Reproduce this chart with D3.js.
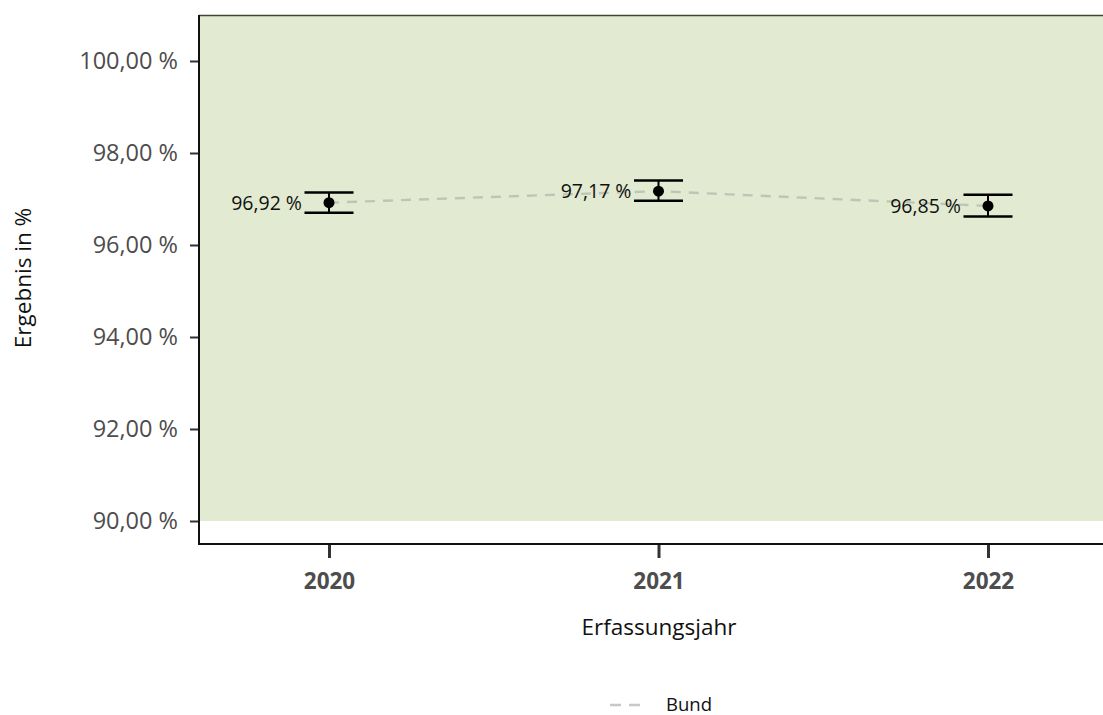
<!DOCTYPE html>
<html><head><meta charset="utf-8">
<script src="https://cdn.jsdelivr.net/npm/d3@7"></script>
<style>body{margin:0;background:#fff}svg{display:block}</style>
</head><body>
<svg id="c" width="1103" height="715"></svg>
<script>
const years = ["2020","2021","2022"];
const values = [96.92, 97.17, 96.85];
const upper = [97.14, 97.40, 97.09];
const lower = [96.70, 96.96, 96.62];
const labels = ["96,92 %","97,17 %","96,85 %"];
const yTicks = [90, 92, 94, 96, 98, 100];
const bandRange = [90, 101];
const legendLabel = "Bund";

const svg = d3.select("#c");
const font = "'Open Sans', 'Noto Sans', sans-serif";
const L = 199, R = 1103, T = 15, B = 544;
const y = d3.scaleLinear().domain([89.5, 101]).range([B, T]);
const x = d3.scalePoint().domain(years).range([329, 988]).padding(0);

svg.append("rect").attr("x", L).attr("y", y(bandRange[1])).attr("width", R - L)
  .attr("height", y(bandRange[0]) - y(bandRange[1])).attr("fill", "#e2ebd2");
svg.append("line").attr("x1", L).attr("x2", R).attr("y1", y(bandRange[1]) + 0.5).attr("y2", y(bandRange[1]) + 0.5)
  .attr("stroke", "#3b4630").attr("stroke-width", 1.5);

// y axis
const ya = svg.append("g").attr("transform", `translate(${L},0)`)
  .call(d3.axisLeft(y).tickValues(yTicks).tickSize(9).tickPadding(12)
    .tickFormat(d => d3.format(".2f")(d).replace(".", ",") + " %"));
ya.select(".domain").remove();
ya.selectAll(".tick line").attr("stroke", "#333").attr("stroke-width", 2);
ya.selectAll(".tick text").attr("font-family", font).attr("font-size", 23.5).attr("fill", "#4d4d4d");

// x axis
const xa = svg.append("g").attr("transform", `translate(0,${B + 1})`)
  .call(d3.axisBottom(x).tickSize(13).tickPadding(15));
xa.select(".domain").remove();
xa.selectAll(".tick line").attr("stroke", "#333").attr("stroke-width", 3);
xa.selectAll(".tick text").attr("font-family", font).attr("font-size", 22.5).attr("font-weight", "bold").attr("fill", "#4d4d4d");

// axis lines
svg.append("line").attr("x1", L).attr("x2", L).attr("y1", T).attr("y2", B + 1).attr("stroke", "#111").attr("stroke-width", 2);
svg.append("line").attr("x1", L).attr("x2", R).attr("y1", B).attr("y2", B).attr("stroke", "#111").attr("stroke-width", 2);

// dashed line
const line = d3.line().x((d, i) => x(years[i])).y(d => y(d));
svg.append("path").datum(values).attr("d", line).attr("fill", "none")
  .attr("stroke", "#bfc5b6").attr("stroke-width", 2.4).attr("stroke-dasharray", "10,8");

// error bars
const g = svg.append("g");
years.forEach((yr, i) => {
  const cx = x(yr);
  g.append("line").attr("x1", cx).attr("x2", cx).attr("y1", y(upper[i])).attr("y2", y(lower[i])).attr("stroke", "#000").attr("stroke-width", 2);
  [upper[i], lower[i]].forEach(v => g.append("line").attr("x1", cx - 24.5).attr("x2", cx + 24.5)
    .attr("y1", y(v)).attr("y2", y(v)).attr("stroke", "#000").attr("stroke-width", 2.5));
  g.append("circle").attr("cx", cx).attr("cy", y(values[i])).attr("r", 5.5).attr("fill", "#000");
  g.append("text").attr("x", cx - 27).attr("y", y(values[i])).attr("dy", "0.35em")
    .attr("text-anchor", "end").attr("font-family", font).attr("font-size", 19.5).attr("fill", "#111").text(labels[i]);
});

// axis titles
svg.append("text").attr("x", 659).attr("y", 635).attr("text-anchor", "middle")
  .attr("font-family", font).attr("font-size", 22.5).attr("fill", "#111").text("Erfassungsjahr");
svg.append("text").attr("transform", "translate(31,278) rotate(-90)").attr("text-anchor", "middle")
  .attr("font-family", font).attr("font-size", 22.5).attr("fill", "#111").text("Ergebnis in %");

// legend
svg.append("line").attr("x1", 610).attr("x2", 646).attr("y1", 705).attr("y2", 705)
  .attr("stroke", "#c8c8c8").attr("stroke-width", 2.4).attr("stroke-dasharray", "11,8");
svg.append("text").attr("x", 666).attr("y", 705).attr("dy", "0.35em").attr("font-family", font)
  .attr("font-size", 18.5).attr("fill", "#111").text(legendLabel);
</script>
</body></html>
